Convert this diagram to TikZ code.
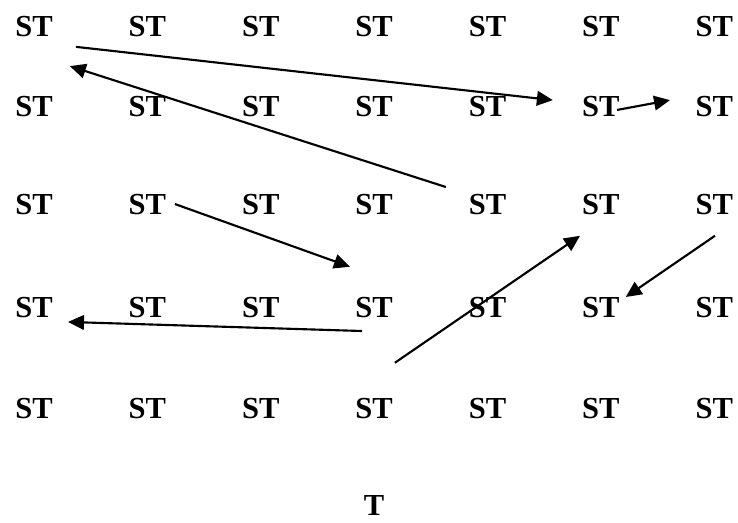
\documentclass[tikz,border=0pt]{standalone}
\usepackage{fontspec}
\setmainfont{Liberation Serif}
\usetikzlibrary{arrows.meta}

\begin{document}
\begin{tikzpicture}[
  st/.style={font=\fontsize{23}{27}\selectfont\bfseries, inner sep=0pt},
  mv/.style={->, line width=1.6pt},
  >={Triangle[length=12pt,width=11pt]}]
\useasboundingbox (0,0) rectangle (19.53,13.84);
% grid of ST labels, rows counted from the top
\foreach \i/\yy in {1/13.15,2/11.01,3/8.42,4/5.69,5/3.04}
  \foreach \j in {1,...,7}
    \node[st] (s\i\j) at ({0.9+3*(\j-1)},\yy) {ST};
\node[st] (T) at (9.9,0.46) {T};
% moves
\draw[mv] ([xshift=1.11cm,yshift=-0.55cm]s11.center) -- ([xshift=-1.27cm,yshift=0.18cm]s26.center);
\draw[mv] ([xshift=-1.10cm,yshift=0.47cm]s35.center) -- ([xshift=0.95cm,yshift=-1.06cm]s11.center);
\draw[mv] ([xshift=0.43cm,yshift=-0.08cm]s26.center) -- ([xshift=-1.17cm,yshift=0.18cm]s27.center);
\draw[mv] ([xshift=0.73cm,yshift=0.02cm]s32.center) -- ([xshift=-0.64cm,yshift=1.09cm]s44.center);
\draw[mv] ([xshift=-0.32cm,yshift=-0.61cm]s44.center) -- ([xshift=0.90cm,yshift=-0.37cm]s41.center);
\draw[mv] ([xshift=0.55cm,yshift=1.20cm]s54.center) -- ([xshift=-0.55cm,yshift=-0.82cm]s36.center);
\draw[mv] ([xshift=0.02cm,yshift=-0.82cm]s37.center) -- ([xshift=0.66cm,yshift=0.29cm]s46.center);
\end{tikzpicture}
\end{document}
